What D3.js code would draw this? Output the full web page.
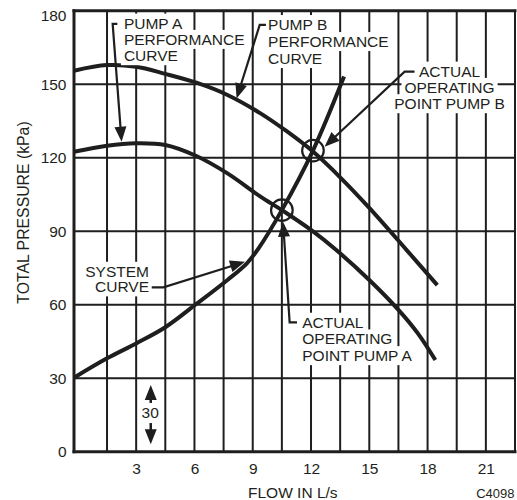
<!DOCTYPE html>
<html><head><meta charset="utf-8">
<script src="https://cdn.jsdelivr.net/npm/d3@7"></script>
<style>
body{margin:0;background:#fff}
svg{display:block}
text{font-family:"Liberation Sans",Arial,Helvetica,sans-serif;fill:#231f20}
</style>
</head><body>
<svg id="chart" width="517" height="500"></svg>
<script>
// ---- data ----
const flowTicks = [3, 6, 9, 12, 15, 18, 21];
const pressureTicks = [0, 30, 60, 90, 120, 150, 180];

const pumpAFlow     = [-0.2, 1.5, 3.0, 4.5, 6.1, 7.7, 9.4, 10.5, 12.0, 13.3, 15.0, 16.5, 17.5, 18.4];
const pumpAPressure = [122.4, 124.9, 125.9, 125.2, 120.7, 113.6, 104.1, 98.6, 90.5, 82.3, 70.1, 57.9, 48.3, 37.4];

const pumpBFlow     = [-0.2, 1.5, 3.0, 4.5, 6.1, 7.7, 9.4, 10.8, 12.1, 13.5, 15.0, 16.9, 18.5];
const pumpBPressure = [155.5, 157.8, 157.1, 154.2, 150.6, 145.6, 138.1, 130.5, 122.5, 112.0, 99.5, 82.5, 68.0];

const systemFlow     = [-0.2, 1.5, 3.0, 4.5, 6.1, 7.7, 8.7, 9.3, 10.5, 12.1, 13.7];
const systemPressure = [30.2, 38.1, 44.2, 50.8, 60.3, 70.1, 76.9, 83.0, 98.6, 122.9, 153.1];

const opFlow     = [10.5, 12.1];
const opPressure = [98.6, 122.9];

// ---- setup ----
const svg = d3.select("#chart");
const x = d3.scaleLinear().domain([-0.2, 22.5]).range([74, 515]);
const y = d3.scaleLinear().domain([0, 180]).range([451.7, 10.7]);
const ink = "#1e1e1e";

// grid
const gridFlow = d3.range(1.5, 22, 1.5);
svg.append("g").selectAll("line").data(gridFlow).join("line")
  .attr("x1", d => x(d)).attr("x2", d => x(d))
  .attr("y1", y(0)).attr("y2", y(180))
  .attr("stroke", ink).attr("stroke-width", 2);
svg.append("g").selectAll("line").data(pressureTicks.filter(d => d > 0 && d < 180)).join("line")
  .attr("x1", x(-0.2)).attr("x2", x(22.5))
  .attr("y1", d => y(d)).attr("y2", d => y(d))
  .attr("stroke", ink).attr("stroke-width", 2);

// frame
const frame = svg.append("g").attr("stroke", ink).attr("stroke-linecap", "square");
frame.append("line").attr("x1", x(-0.2)).attr("x2", x(22.5)).attr("y1", y(180)).attr("y2", y(180)).attr("stroke-width", 3);
frame.append("line").attr("x1", x(-0.2)).attr("x2", x(22.5)).attr("y1", y(0)).attr("y2", y(0)).attr("stroke-width", 3);
frame.append("line").attr("x1", x(-0.2)).attr("x2", x(-0.2)).attr("y1", y(0)).attr("y2", y(180)).attr("stroke-width", 3);
frame.append("line").attr("x1", x(22.5)).attr("x2", x(22.5)).attr("y1", y(0)).attr("y2", y(180)).attr("stroke-width", 2);

// axes labels
const yAxis = svg.append("g").attr("transform", `translate(${x(-0.2)},0)`)
  .call(d3.axisLeft(y).tickValues(pressureTicks).tickSize(0).tickPadding(7.5));
yAxis.select(".domain").remove();
yAxis.selectAll("text").attr("font-size", 15.5).attr("font-family", null).attr("fill", "#231f20")
  .attr("dy", d => d === 180 ? "0.62em" : "0.34em");

const xAxis = svg.append("g").attr("transform", `translate(0,${y(0)})`)
  .call(d3.axisBottom(x).tickValues(flowTicks).tickSize(0).tickPadding(11));
xAxis.select(".domain").remove();
xAxis.selectAll("text").attr("font-size", 15.5).attr("font-family", null).attr("fill", "#231f20");

svg.append("text").attr("x", 292.8).attr("y", 497.5).attr("text-anchor", "middle")
  .attr("font-size", 15.5).text("FLOW IN L/s");
svg.append("text").attr("x", 514.5).attr("y", 497.5).attr("text-anchor", "end")
  .attr("font-size", 13).text("C4098");
svg.append("text").attr("transform", "translate(28.5,212.5) rotate(-90)").attr("text-anchor", "middle")
  .attr("font-size", 15.8).text("TOTAL PRESSURE (kPa)");

// labels with white backing
function label(lines, fx, fp, lh, anchor) {
  const g = svg.append("g");
  const texts = lines.map((t, i) => g.append("text")
    .attr("x", x(fx)).attr("y", y(fp) + i * lh)
    .attr("text-anchor", anchor).attr("font-size", 15.5).text(t));
  texts.forEach(t => {
    const b = t.node().getBBox();
    g.insert("rect", "text").attr("x", b.x - 3).attr("y", b.y - 1)
      .attr("width", b.width + 6).attr("height", b.height + 2).attr("fill", "#fff");
  });
  return g;
}

// curves
const line = d3.line().x(d => x(d[0])).y(d => y(d[1])).curve(d3.curveCatmullRom.alpha(0.5));
const series = [
  d3.zip(pumpAFlow, pumpAPressure),
  d3.zip(pumpBFlow, pumpBPressure),
  d3.zip(systemFlow, systemPressure)
];
svg.append("g").selectAll("path").data(series).join("path")
  .attr("d", line).attr("fill", "none").attr("stroke", ink)
  .attr("stroke-width", 4).attr("stroke-linecap", "butt");

label(["PUMP A", "PERFORMANCE", "CURVE"], 2.37, 172.7, 16.3, "start");
label(["PUMP B", "PERFORMANCE", "CURVE"], 9.79, 172.1, 17, "start");
label(["ACTUAL", "OPERATING", "POINT PUMP B"], 19.13, 153.1, 16.3, "middle");
label(["ACTUAL", "OPERATING", "POINT PUMP A"], 11.55, 50.6, 16.7, "start");
label(["SYSTEM", "CURVE"], 3.66, 71.4, 15.6, "end");

// operating point circles
svg.append("g").selectAll("circle").data(d3.zip(opFlow, opPressure)).join("circle")
  .attr("cx", d => x(d[0])).attr("cy", d => y(d[1])).attr("r", 10.8)
  .attr("fill", "none").attr("stroke", ink).attr("stroke-width", 2.2);

// leaders with arrowheads
function leader(pts, w) {
  const P = pts.map(p => [x(p[0]), y(p[1])]);
  const tip = P[P.length - 1], prev = P[P.length - 2];
  const dx = tip[0] - prev[0], dy = tip[1] - prev[1];
  const L = Math.hypot(dx, dy), ux = dx / L, uy = dy / L;
  const len = 15, hw = 6;
  const base = [tip[0] - ux * len, tip[1] - uy * len];
  const body = P.slice(0, -1).concat([[tip[0] - ux * (len - 2), tip[1] - uy * (len - 2)]]);
  svg.append("path").attr("d", d3.line()(body)).attr("fill", "none")
    .attr("stroke", ink).attr("stroke-width", w || 2.2).attr("stroke-linejoin", "miter");
  svg.append("path").attr("d", d3.line()([tip,
      [base[0] - uy * hw, base[1] + ux * hw],
      [base[0] + uy * hw, base[1] - ux * hw]]) + "Z")
    .attr("fill", ink);
}
leader([[2.03, 174.6], [1.79, 174.6], [2.25, 126.5]]);
leader([[9.68, 174.2], [9.36, 174.2], [8.17, 144.2]]);
leader([[17.33, 155.1], [16.82, 155.1], [12.70, 124.5]]);
leader([[11.28, 52.8], [10.90, 52.8], [10.56, 93.9]]);
leader([[3.80, 67.1], [4.40, 67.1], [8.60, 77.5]]);

// "30" scale marker
leader([[3.75, 19.9], [3.75, 27.2]], 2.5);
leader([[3.75, 11.7], [3.75, 3.0]], 2.5);
svg.append("text").attr("x", x(3.72)).attr("y", y(13.6)).attr("text-anchor", "middle")
  .attr("font-size", 15.5).text("30");
</script>
</body></html>
